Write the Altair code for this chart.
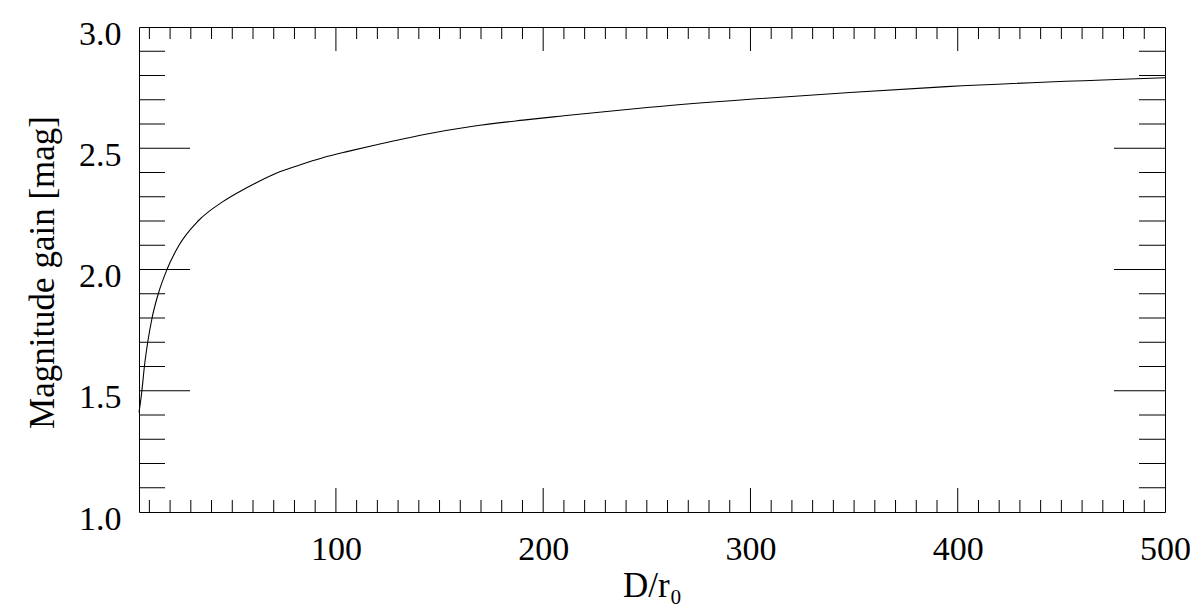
import altair as alt
import pandas as pd

# Curve
D_values = [5.0, 6.4, 7.6, 9.2, 11.3, 14.3, 18.5, 24.3, 33.5, 45.5, 53.5, 61.6,
            71.2, 82.5, 93.7, 105.8, 117.9, 142.0, 166.1, 190.3, 208.0, 251.4,
            299.7, 348.0, 394.6, 500.0]
gain_values = [1.41, 1.50, 1.60, 1.70, 1.80, 1.90, 2.00, 2.10, 2.20, 2.280,
               2.321, 2.358, 2.397, 2.431, 2.461, 2.487, 2.511, 2.556, 2.591,
               2.616, 2.632, 2.669, 2.702, 2.730, 2.754, 2.791]

# Axis labels and tick positions
x_label_values = [100, 200, 300, 400, 500]
y_label_values = [1.0, 1.5, 2.0, 2.5, 3.0]
x_major_ticks = [100, 200, 300, 400]
x_minor_ticks = [v for v in range(10, 500, 10) if v % 100 != 0]
y_major_ticks = [1.5, 2.0, 2.5]
y_minor_ticks = [1.1, 1.2, 1.3, 1.4, 1.6, 1.7, 1.8, 1.9, 2.1, 2.2, 2.3, 2.4,
                 2.6, 2.7, 2.8, 2.9]

W = 1026
H = 485
FONT = "Liberation Serif"

xscale = alt.Scale(domain=[5, 500], nice=False, zero=False)
yscale = alt.Scale(domain=[1.0, 3.0], nice=False, zero=False)

xaxis = alt.Axis(values=x_label_values, format="d", ticks=False,
                 domain=False, grid=False, labelFlush=False,
                 labelOverlap=False, labelBaseline="alphabetic",
                 labelPadding=47, labelFontSize=34, labelFont=FONT,
                 labelColor="black",
                 title="D/r\u2080", titleFont=FONT, titleFontSize=35,
                 titleFontWeight="normal", titleColor="black",
                 titleBaseline="alphabetic", titleY=84)
yaxis = alt.Axis(values=y_label_values, format=".1f", ticks=False,
                 domain=False, grid=False, labelFlush=False,
                 labelOverlap=False, labelBaseline="alphabetic",
                 labelOffset=17, labelPadding=18, labelFontSize=34,
                 labelFont=FONT, labelColor="black",
                 title="Magnitude gain [mag]", titleFont=FONT,
                 titleFontSize=35, titleFontWeight="normal",
                 titleColor="black", titleBaseline="alphabetic",
                 titleAngle=270, titleAlign="center",
                 titleX=-86, titleY=245)

curve = pd.DataFrame({"D": D_values, "gain": gain_values})

line = alt.Chart(curve).mark_line(color="black", strokeWidth=1.1,
                                  interpolate="monotone").encode(
    x=alt.X("D:Q", scale=xscale, axis=xaxis),
    y=alt.Y("gain:Q", scale=yscale, axis=yaxis),
)


def xticks(vals, y0, y1):
    return alt.Chart(pd.DataFrame({"D": vals})).mark_rule(
        color="black", strokeWidth=1).encode(
        x=alt.X("D:Q", scale=xscale, axis=xaxis),
        y=alt.value(y0), y2=alt.value(y1))


def yticks(vals, x0, x1):
    return alt.Chart(pd.DataFrame({"gain": vals})).mark_rule(
        color="black", strokeWidth=1).encode(
        y=alt.Y("gain:Q", scale=yscale, axis=yaxis),
        x=alt.value(x0), x2=alt.value(x1))


layers = [
    line,
    xticks(x_major_ticks, H, H - 24),
    xticks(x_major_ticks, 0, 24),
    xticks(x_minor_ticks, H, H - 12),
    xticks(x_minor_ticks, 0, 12),
    yticks(y_major_ticks, 0, 51),
    yticks(y_major_ticks, W, W - 51),
    yticks(y_minor_ticks, 0, 26),
    yticks(y_minor_ticks, W, W - 26),
]

chart = alt.layer(*layers).properties(
    width=W, height=H,
    padding={"left": 131, "top": 19, "right": 25, "bottom": 94},
    autosize=alt.AutoSizeParams(type="none"),
    background="white",
).configure_view(stroke="black", strokeWidth=1)

chart.save("out.html", embed_options={"renderer": "svg", "actions": False})
